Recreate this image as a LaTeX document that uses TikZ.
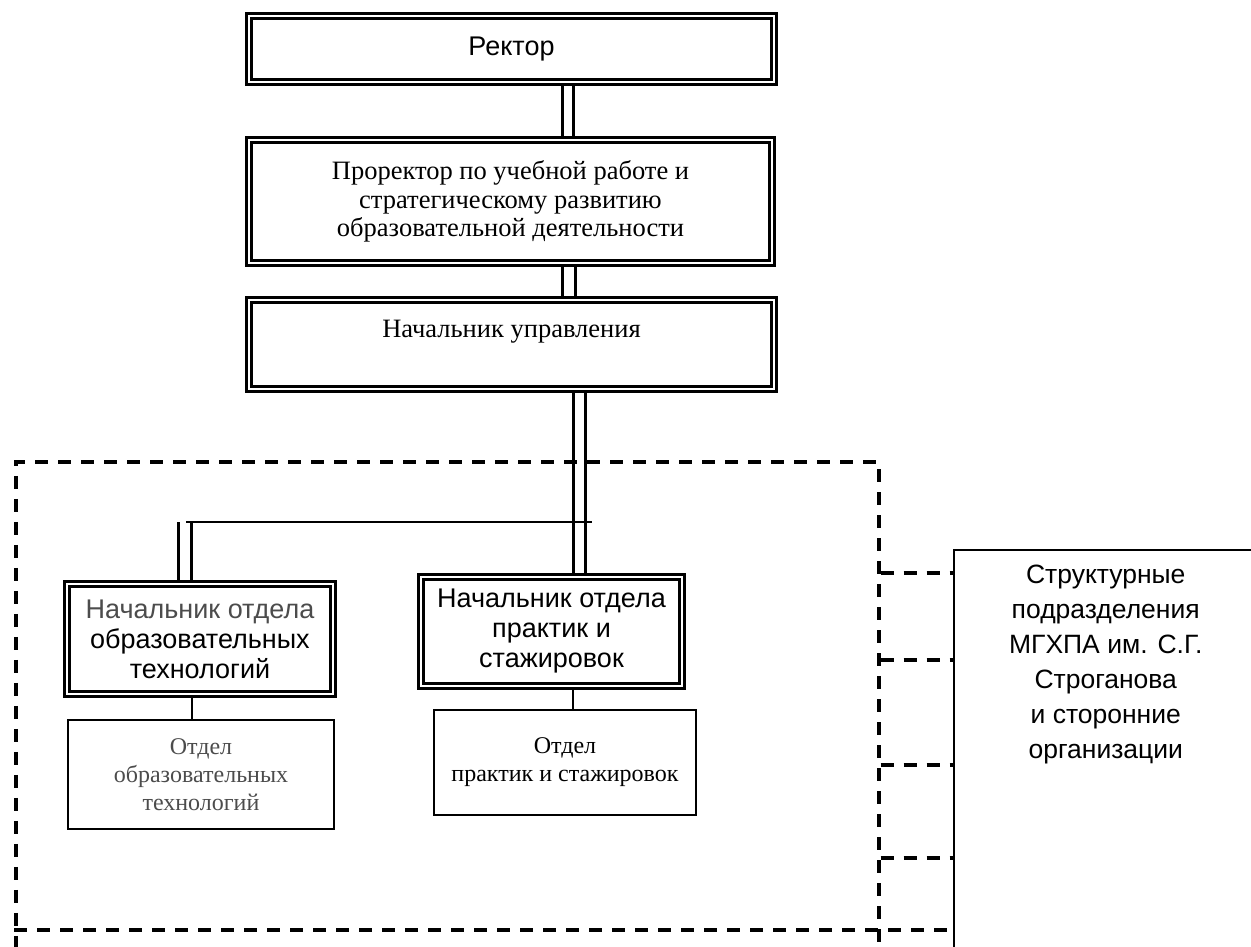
\documentclass[tikz,border=0pt]{standalone}
\usepackage{fontspec}
\setmainfont{Liberation Serif}
\newfontfamily\arialfont{Liberation Sans}
\usetikzlibrary{positioning}

\begin{document}
\begin{tikzpicture}[x=1pt,y=-1pt,
    dblbox/.style={draw, double, line width=2.7pt, double distance=2.5pt, align=center},
    deptbox/.style={draw, line width=2pt, align=center},
    pairline/.style={line width=3pt},
    thinline/.style={line width=1.5pt},
    dashline/.style={line width=3.5pt, dash pattern=on 13pt off 10pt},
    bossfont/.style={font=\fontsize{26.5}{28.5}\selectfont},
    headfont/.style={font=\arialfont\fontsize{27}{30}\selectfont},
    deptfont/.style={font=\fontsize{24}{28}\selectfont}]
    \tikzstyle{every node}+=[inner sep=0pt]
    \useasboundingbox (0,0) rectangle (1251,947);
    \clip (0,0) rectangle (1251,947);
    \node [draw, dashline, anchor=north west, minimum width=863pt, minimum height=560pt] (area) at (14,460) {};
    \node [dblbox, minimum width=525pt, minimum height=66pt, font=\arialfont\fontsize{27}{30}\selectfont] (rector) at (511.5,49) {Ректор};
    \node [dblbox, bossfont, minimum width=523pt, minimum height=123pt] (prorector) at (510.5,201.5) {Проректор по учебной работе и\\стратегическому развитию\\образовательной деятельности};
    \node [dblbox, bossfont, minimum width=525pt, minimum height=89pt, text depth=31pt] (chief) at (511.5,344.5) {Начальник управления};
    \node [dblbox, headfont, minimum width=266pt, minimum height=110pt] (edhead) at (200,639) {\textcolor{black!70}{Начальник отдела}\\образовательных\\технологий};
    \node [dblbox, headfont, minimum width=261pt, minimum height=109pt] (prhead) at (551.5,631.5) {Начальник отдела\\практик и\\стажировок};
    \node [deptbox, deptfont, text=black!70, minimum width=266pt, minimum height=109pt] (eddept) at (201,774.5) {Отдел\\образовательных\\технологий};
    \node [deptbox, deptfont, minimum width=262pt, minimum height=105pt] (prdept) at (565,762.5) {Отдел\\практик и стажировок};
    \node [draw, thinline, anchor=north west, minimum width=304pt, minimum height=420pt] (structframe) at (953,549) {};
    \node [below=16pt of structframe.north, align=center, font=\arialfont\fontsize{26.5}{35}\selectfont] (struct) {Структурные\\подразделения\\МГХПА им. С.Г.\\Строганова\\и сторонние\\организации};
    \coordinate (split) at (186,522);
    \coordinate (splitend) at (592,522);
    \foreach \x in {562,573}
        \draw [pairline] (rector.south -| \x,0) -- (prorector.north -| \x,0);
    \foreach \x in {562,575}
        \draw [pairline] (prorector.south -| \x,0) -- (chief.north -| \x,0);
    \foreach \x in {573,585}
        \draw [pairline] (chief.south -| \x,0) -- (prhead.north -| \x,0);
    \draw [thinline] (split) -- (splitend);
    \foreach \x in {178,191}
        \draw [pairline] (split -| \x,0) -- (edhead.north -| \x,0);
    \draw [thinline] (edhead.south -| 192,0) -- (eddept.north -| 192,0);
    \draw [thinline] (prhead.south -| 573,0) -- (prdept.north -| 573,0);
    \foreach \y in {573,660,765,858}
        \draw [dashline] (area.east |- 0,\y) -- (structframe.west |- 0,\y);
    \draw [dashline] (area.west |- 0,930) -- (structframe.west |- 0,930);
\end{tikzpicture}
\end{document}
